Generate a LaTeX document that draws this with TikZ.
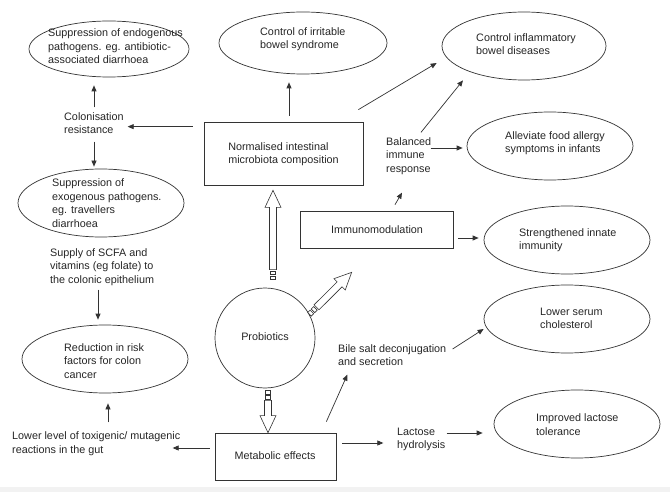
\documentclass[tikz,border=0pt]{standalone}
\usepackage{fontspec}
\setmainfont{Liberation Sans}
\usetikzlibrary{shapes.geometric,arrows.meta,calc}
\newcommand\hollowarr[2]{%
  \coordinate (hS) at ($(#1)!10pt!(#2)$);
  \coordinate (hH) at ($(#2)!17pt!(#1)$);
  \coordinate (hq2) at ($(#1)!3.5pt!(#2)$);
  \coordinate (hq3) at ($(#1)!5pt!(#2)$);
  \coordinate (hq4) at ($(#1)!8.5pt!(#2)$);
  \draw[harr] ($(hS)!3.5pt!90:(#2)$) -- ($(hH)!3.5pt!90:(#2)$) -- ($(hH)!8pt!90:(#2)$) -- (#2)
     -- ($(hH)!8pt!-90:(#2)$) -- ($(hH)!3.5pt!-90:(#2)$) -- ($(hS)!3.5pt!-90:(#2)$) -- cycle;
  \draw[harr] ($(#1)!2.5pt!90:(#2)$) -- ($(hq2)!2.5pt!90:(hS)$) -- ($(hq2)!2.5pt!-90:(hS)$) -- ($(#1)!2.5pt!-90:(#2)$) -- cycle;
  \draw[harr] ($(hq3)!2.5pt!90:(hS)$) -- ($(hq4)!2.5pt!90:(hS)$) -- ($(hq4)!2.5pt!-90:(hS)$) -- ($(hq3)!2.5pt!-90:(hS)$) -- cycle;
}
\begin{document}
\begin{tikzpicture}[x=1pt,y=-1pt,
  ln/.style={draw=black!80, line width=0.7pt},
  ell/.style={ln, ellipse, inner sep=0pt, minimum width=166pt, minimum height=68pt},
  box/.style={ln, rectangle, inner sep=0pt},
  txt/.style={align=left, inner sep=0pt, font=\fontsize{10.8}{13.5}\selectfont, text=black!85},
  arr/.style={draw=black!80, line width=0.7pt, -{Triangle[length=6pt,width=5pt]}},
  harr/.style={draw=black!80, line width=0.6pt, fill=white},
]
\useasboundingbox (0,0) rectangle (670,492);
\fill[white] (0,0) rectangle (670,492);
\fill[black!5] (0,487) rectangle (670,492);

% ellipses
\node[ell, minimum width=160pt, minimum height=56pt] (e1) at (109,49) {};
\node[ell, minimum width=168pt, minimum height=62pt] (e2) at (303,43) {};
\node[ell, minimum width=164pt] (e3) at (524,46) {};
\node[ell] (e4) at (550,146) {};
\node[ell] (e5) at (567,240) {};
\node[ell] (e6) at (567,319) {};
\node[ell] (e7) at (577,424) {};
\node[ell] (e8) at (101,203) {};
\node[ell] (e9) at (105,359) {};

% ellipse texts
\node[txt, anchor=west] (t1) at (48,46.5) {Suppression of endogenous\\pathogens. eg. antibiotic-\\associated diarrhoea};
\node[txt, anchor=west] (t2) at (260,39) {Control of irritable\\bowel syndrome};
\node[txt, anchor=west] (t3) at (476,44) {Control inflammatory\\bowel diseases};
\node[txt, anchor=west] (t4) at (505,143) {Alleviate food allergy\\symptoms in infants};
\node[txt, anchor=west] (t5) at (519,240) {Strengthened innate\\immunity};
\node[txt, anchor=west] (t6) at (540,318.5) {Lower serum\\cholesterol};
\node[txt, anchor=west] (t7) at (536,424.5) {Improved lactose\\tolerance};
\node[txt, anchor=west] (t8) at (52,203) {Suppression of\\exogenous pathogens.\\eg. travellers\\diarrhoea};
\node[txt, anchor=west] (t9) at (64,361) {Reduction in risk\\factors for colon\\cancer};

% boxes and circle
\node[box, minimum width=159pt, minimum height=63pt] (nb) at (283.5,153.5) {};
\node[txt] (nbt) at (283.5,154) {Normalised intestinal\\microbiota composition};
\node[box, minimum width=153pt, minimum height=37pt] (imm) at (376.5,229.5) {};
\node[txt] (immt) at (377,230) {Immunomodulation};
\node[box, minimum width=121pt, minimum height=47pt] (met) at (275.5,456.5) {};
\node[txt] (mett) at (275,456) {Metabolic effects};
\node[ln, circle, minimum size=100pt, inner sep=0pt] (prob) at (265,338) {};
\node[txt] (probt) at (265,337) {Probiotics};

% free labels
\node[txt, anchor=west] (colres) at (64,123) {Colonisation\\resistance};
\node[txt, anchor=west] (bal) at (386,156) {Balanced\\immune\\response};
\node[txt, anchor=west] (supply) at (50,267) {Supply of SCFA and\\vitamins (eg folate) to\\the colonic epithelium};
\node[txt, anchor=west] (bile) at (338,355) {Bile salt deconjugation\\and secretion};
\node[txt, anchor=west] (lact) at (397,439.5) {Lactose\\hydrolysis};
\node[txt, anchor=west] (lower) at (12,443.5) {Lower level of toxigenic/ mutagenic\\reactions in the gut};

% arrows
\draw[arr] ($(e1.south)+(-15,30)$) -- ($(e1.south)+(-15,8)$);
\draw[arr] ($(e8.north)+(-7,-27)$) -- ($(e8.north)+(-7,-2)$);
\draw[arr] ($(nb.north west)+(-11,5)$) -- ($(nb.north west)+(-76,5)$);
\draw[arr] ($(nb.north)+(5.5,-6)$) -- ($(e2.south)+(-14,8)$);
\draw[arr] ($(nb.north east)+(-5,-12)$) -- ($(e3.west)+(-5,17)$);
\draw[arr] ($(e3.south)+(-103,52)$) -- ($(e3.south)+(-61,0)$);
\draw[arr] ($(e4.west)+(-36,2)$) -- ($(e4.west)+(-4,2)$);
\draw[arr] ($(imm.north)+(18.5,-6)$) -- ($(imm.north)+(25.5,-18)$);
\draw[arr] ($(imm.east)+(5,8.5)$) -- ($(e5.west)+(-5,-2)$);
\draw[arr] ($(met.west)+(-5,-8.5)$) -- ($(met.west)+(-42,-8.5)$);
\draw[arr] ($(e9.south)+(3,29)$) -- ($(e9.south)+(3,10)$);
\draw[arr] ($(e9.north)+(-7,-35)$) -- ($(e9.north)+(-7,-5)$);
\draw[arr] ($(met.north east)+(-10,-11)$) -- ($(met.north east)+(11,-58)$);
\draw[arr] ($(e6.west)+(-31,30)$) -- ($(e6.west)+(0,10)$);
\draw[arr] ($(met.east)+(6,-13.5)$) -- ($(met.east)+(47,-13.5)$);
\draw[arr] ($(e7.west)+(-47,9)$) -- ($(e7.west)+(-11,9)$);

% hollow arrows
\coordinate (pA1) at ($(prob.north)+(8,-8)$);
\coordinate (pB1) at ($(nb.south)+(-10.5,5)$);
\hollowarr{pA1}{pB1}
\coordinate (pA2) at (prob.28);
\coordinate (pB2) at ($(imm.south west)+(52,24)$);
\hollowarr{pA2}{pB2}
\coordinate (pA3) at ($(prob.south)+(3,2)$);
\coordinate (pB3) at ($(met.north)+(-7.5,0)$);
\hollowarr{pA3}{pB3}
\end{tikzpicture}
\end{document}
